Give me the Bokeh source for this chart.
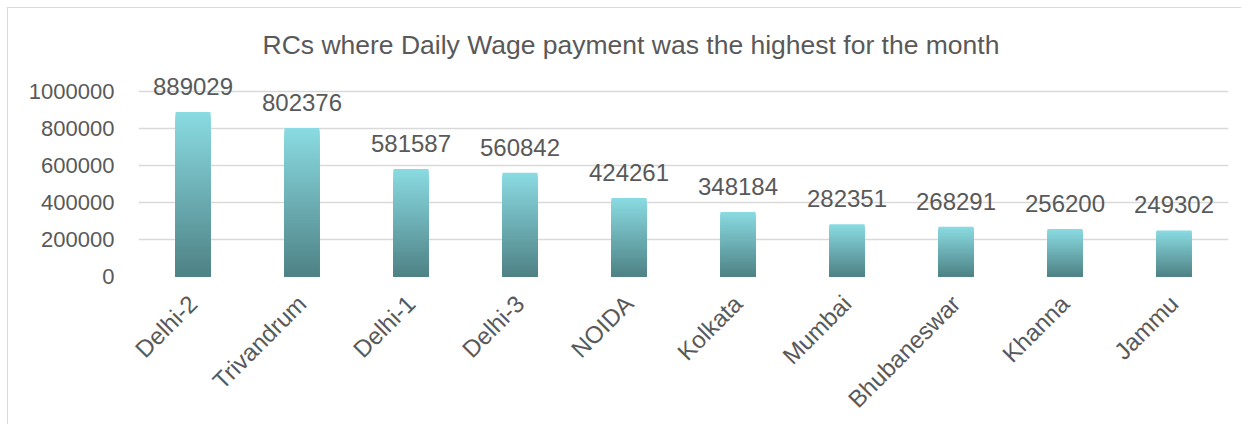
import math
from bokeh.plotting import figure
from bokeh.models import ColumnDataSource, LabelSet, FixedTicker, Range1d
from bokeh.core.properties import value
from bokeh.embed import file_html
from bokeh.resources import INLINE

categories = ["Delhi-2", "Trivandrum", "Delhi-1", "Delhi-3", "NOIDA",
              "Kolkata", "Mumbai", "Bhubaneswar", "Khanna", "Jammu"]
values = [889029, 802376, 581587, 560842, 424261,
          348184, 282351, 268291, 256200, 249302]
y_ticks = [0, 200000, 400000, 600000, 800000, 1000000]
title_text = "RCs where Daily Wage payment was the highest for the month"

FONT = "Liberation Sans"
TXT = "#595959"
TOP_RGB = (0x8a, 0xdb, 0xe2)
BOT_RGB = (0x4e, 0x82, 0x85)
N_SLICES = 80

p = figure(x_range=categories, y_range=Range1d(0, 1092000),
           width=1234, height=417, output_backend="svg", toolbar_location=None,
           min_border_left=130, min_border_right=14, min_border_top=66,
           min_border_bottom=148, title=title_text)
p.styles = {"margin-left": "7px", "margin-top": "7px",
            "border-left": "1px solid #d9d9d9", "border-top": "1px solid #d9d9d9"}

p.title.text_font = FONT
p.title.text_font_size = "26.5px"
p.title.text_font_style = "normal"
p.title.text_color = TXT
p.title.align = "left"
p.title.offset = 124
p.title.vertical_align = "bottom"
p.title.standoff = 30

p.outline_line_color = None
p.xgrid.grid_line_color = None
p.ygrid.grid_line_color = "#d9d9d9"
p.ygrid.grid_line_width = 1.5
p.yaxis.ticker = FixedTicker(ticks=y_ticks)
p.yaxis.axis_line_color = None
p.yaxis.major_tick_line_color = None
p.yaxis.minor_tick_line_color = None
p.yaxis.major_label_text_font = FONT
p.yaxis.major_label_text_font_size = "22px"
p.yaxis.major_label_text_color = TXT
p.yaxis.major_label_standoff = 18
p.yaxis.formatter.use_scientific = False

p.xaxis.axis_line_color = None
p.xaxis.major_tick_line_color = None
p.xaxis.major_label_text_font = FONT
p.xaxis.major_label_text_font_size = "24px"
p.xaxis.major_label_text_color = TXT
p.xaxis.major_label_orientation = math.pi / 4
p.xaxis.major_label_standoff = 17

# gradient bars: nested bars from full height (light) down to short (dark)
xs, tops, cols = [], [], []
for c, v in zip(categories, values):
    for k in range(N_SLICES - 1, -1, -1):
        f = (k + 0.5) / N_SLICES
        rgb = tuple(round(BOT_RGB[j] + (TOP_RGB[j] - BOT_RGB[j]) * f) for j in range(3))
        xs.append(c)
        tops.append(v * (k + 1) / N_SLICES)
        cols.append("#%02x%02x%02x" % rgb)
bar_src = ColumnDataSource(dict(x=xs, top=tops, color=cols))
p.vbar(x="x", bottom=0, top="top", width=0.32, source=bar_src,
       fill_color="color", line_color=None)

lab_src = ColumnDataSource(dict(x=categories, y=values, t=[str(v) for v in values]))
labels = LabelSet(x="x", y="y", text="t", source=lab_src, text_align="center",
                  text_baseline="bottom", y_offset=17, text_font=value(FONT),
                  text_font_size="24px", text_color=TXT)
p.add_layout(labels)

open("out.html", "w").write(file_html(p, INLINE))
